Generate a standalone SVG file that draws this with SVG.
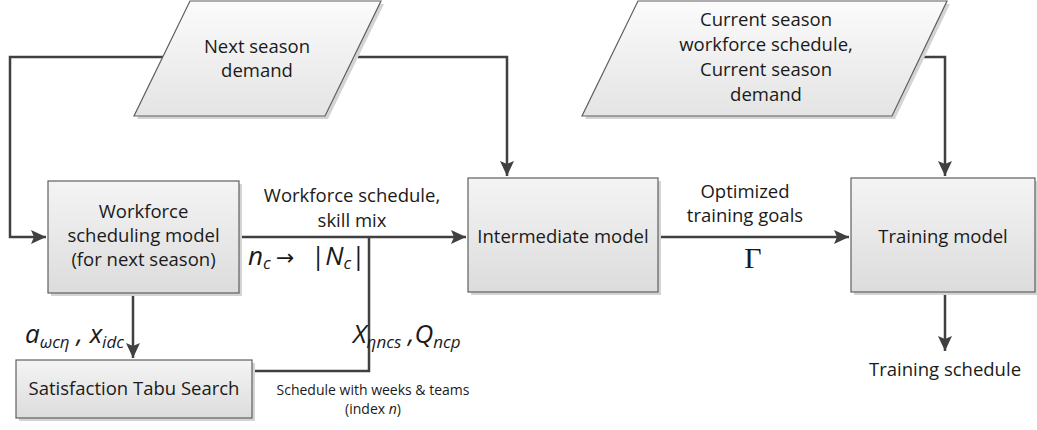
<svg xmlns="http://www.w3.org/2000/svg" width="1037" height="430" viewBox="0 0 1037 430">
  <defs>
    <linearGradient id="boxFill" x1="0" y1="0" x2="0" y2="1">
      <stop offset="0" stop-color="#f4f4f4"/>
      <stop offset="1" stop-color="#dcdcdc"/>
    </linearGradient>
    <linearGradient id="dataFill" x1="0" y1="0" x2="0" y2="1">
      <stop offset="0" stop-color="#fbfbfb"/>
      <stop offset="1" stop-color="#e4e4e4"/>
    </linearGradient>
    <marker id="arrow" markerUnits="userSpaceOnUse" markerWidth="16" markerHeight="16" viewBox="0 0 16 16" refX="15" refY="8" orient="auto">
      <path d="M0,1 L15,8 L0,15 L3,8 Z" fill="#404040"/>
    </marker>
  </defs>
  <style>
    .box { fill: url(#boxFill); stroke: #5f5f5f; stroke-width: 1.2; }
    .data { fill: url(#dataFill); stroke: #5f5f5f; stroke-width: 1.2; }
    .shadow { fill: #d4d4d4; }
    .lbl { font-family: "Open Sans", "Liberation Sans", sans-serif; font-size: 18.5px; fill: #1a1a1a; text-anchor: middle; }
    .small { font-size: 14px; }
    .math { font-family: "Open Sans", "Liberation Sans", sans-serif; font-style: italic; font-size: 26px; fill: #1a1a1a; }
    .sub { font-size: 17px; }
    .up { font-style: normal; }
    .gamma { font-family: "Liberation Serif", serif; font-size: 30px; fill: #1a1a1a; text-anchor: middle; }
    .conn { fill: none; stroke: #404040; stroke-width: 2.5; }
  </style>

  <!-- connectors -->
  <g id="connectors">
    <polyline class="conn" points="163,57 10,57 10,237 46,237" marker-end="url(#arrow)"/>
    <polyline class="conn" points="358,57 507,57 507,176" marker-end="url(#arrow)"/>
    <line class="conn" x1="239" y1="237" x2="466" y2="237" marker-end="url(#arrow)"/>
    <polyline class="conn" points="252,371 369,371 369,237"/>
    <line class="conn" x1="133" y1="293" x2="133" y2="358" marker-end="url(#arrow)"/>
    <line class="conn" x1="658" y1="237" x2="849" y2="237" marker-end="url(#arrow)"/>
    <polyline class="conn" points="922,57 945,57 945,176" marker-end="url(#arrow)"/>
    <line class="conn" x1="945" y1="292" x2="945" y2="351" marker-end="url(#arrow)"/>
  </g>

  <!-- input: next season demand -->
  <g id="next-season-demand">
    <polygon class="shadow" points="193,4 384,4 328,119 137,119"/>
    <polygon class="data" points="190,1 381,1 325,116 134,116"/>
    <text class="lbl" x="257" y="53">Next season</text>
    <text class="lbl" x="257" y="77">demand</text>
  </g>

  <!-- input: current season data -->
  <g id="current-season-data">
    <polygon class="shadow" points="641,4 950,4 895,119 585,119"/>
    <polygon class="data" points="638,1 947,1 892,116 582,116"/>
    <text class="lbl" x="766" y="26">Current season</text>
    <text class="lbl" x="766" y="51">workforce schedule,</text>
    <text class="lbl" x="766" y="76">Current season</text>
    <text class="lbl" x="766" y="101">demand</text>
  </g>

  <!-- workforce scheduling model -->
  <g id="workforce-model">
    <rect class="shadow" x="51" y="184" width="191" height="112"/>
    <rect class="box" x="48" y="181" width="191" height="112"/>
    <text class="lbl" x="143.5" y="218">Workforce</text>
    <text class="lbl" x="143.5" y="242">scheduling model</text>
    <text class="lbl" x="143.5" y="266">(for next season)</text>
  </g>

  <!-- satisfaction tabu search -->
  <g id="tabu-search">
    <rect class="shadow" x="19" y="363" width="236" height="58"/>
    <rect class="box" x="16" y="360" width="236" height="58"/>
    <text class="lbl" x="134" y="395">Satisfaction Tabu Search</text>
  </g>

  <!-- intermediate model -->
  <g id="intermediate-model">
    <rect class="shadow" x="471" y="181" width="190" height="114"/>
    <rect class="box" x="468" y="178" width="190" height="114"/>
    <text class="lbl" x="563" y="243">Intermediate model</text>
  </g>

  <!-- training model -->
  <g id="training-model">
    <rect class="shadow" x="854" y="181" width="184" height="114"/>
    <rect class="box" x="851" y="178" width="184" height="114"/>
    <text class="lbl" x="943" y="243">Training model</text>
  </g>

  <!-- connector labels -->
  <g id="labels">
    <text class="lbl" x="352" y="202">Workforce schedule,</text>
    <text class="lbl" x="352" y="227">skill mix</text>
    <text class="math" y="265"><tspan x="248">n</tspan><tspan class="sub" dy="4">c</tspan><tspan class="up" x="276" dy="-4" font-family="DejaVu Sans" font-size="22">→</tspan><tspan class="up" x="311">|</tspan><tspan>N</tspan><tspan class="sub" dy="4">c</tspan><tspan class="up" dy="-4">|</tspan></text>

    <text class="math" x="25" y="343">a<tspan class="sub" dy="5">ωcη</tspan><tspan dy="-5"> , </tspan>x<tspan class="sub" dy="5">idc</tspan></text>
    <text class="math" x="353" y="343">X<tspan class="sub" dy="5">ηncs</tspan><tspan dy="-5"> ,</tspan>Q<tspan class="sub" dy="5">ncp</tspan></text>

    <text class="lbl small" x="373" y="395">Schedule with weeks &amp; teams</text>
    <text class="lbl small" x="373" y="414">(index <tspan font-style="italic">n</tspan>)</text>

    <text class="lbl" x="745" y="198">Optimized</text>
    <text class="lbl" x="745" y="222">training goals</text>
    <text class="gamma" x="753" y="268">Γ</text>

    <text class="lbl" x="945" y="376">Training schedule</text>
  </g>
</svg>
